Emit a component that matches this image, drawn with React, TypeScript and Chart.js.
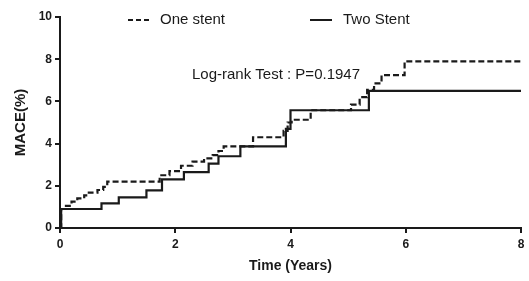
import React, { useEffect, useRef } from "react";
import { Chart, registerables } from "chart.js";

Chart.register(...registerables);

// One stent (dashed) Kaplan-Meier style cumulative MACE (%)
const oneStentYears = [0, 0.02, 0.08, 0.2, 0.3, 0.42, 0.5, 0.65, 0.75, 0.82, 1.73, 1.9, 2.1, 2.3, 2.5, 2.65, 2.75, 2.84, 3.35, 3.88, 3.95, 4.02, 4.35, 5.05, 5.2, 5.33, 5.45, 5.58, 5.98, 8];
const oneStentMace = [0, 0.9, 1.05, 1.25, 1.4, 1.55, 1.68, 1.8, 1.95, 2.2, 2.5, 2.7, 2.95, 3.15, 3.3, 3.45, 3.65, 3.87, 4.3, 4.6, 5.0, 5.13, 5.58, 5.85, 6.2, 6.55, 6.85, 7.25, 7.9, 7.9];

// Two stent (solid)
const twoStentYears = [0, 0.02, 0.72, 1.02, 1.5, 1.77, 2.15, 2.58, 2.75, 3.13, 3.92, 4.0, 5.36, 8];
const twoStentMace = [0, 0.9, 1.17, 1.45, 1.78, 2.3, 2.65, 3.05, 3.4, 3.87, 4.7, 5.58, 6.5, 6.5];

const xTicks = [0, 2, 4, 6, 8];
const yTicks = [0, 2, 4, 6, 8, 10];

const seriesNames = ["One stent", "Two Stent"];
const annotationText = "Log-rank Test : P=0.1947";
const xTitle = "Time (Years)";
const yTitle = "MACE(%)";

const INK = "#1a1a1a";
const FONT = "'Liberation Sans', Arial, sans-serif";

const overlayPlugin = {
  id: "overlay",
  afterDraw(chart: any) {
    const { ctx, chartArea } = chart;
    const L = chartArea.left;
    const T = chartArea.top;
    ctx.save();
    ctx.strokeStyle = INK;
    ctx.fillStyle = INK;
    ctx.lineWidth = 2;
    // legend: One stent (dashed), Two Stent (solid)
    const ly = T + 3;
    ctx.setLineDash([5, 3]);
    ctx.beginPath();
    ctx.moveTo(L + 68, ly);
    ctx.lineTo(L + 92, ly);
    ctx.stroke();
    ctx.setLineDash([]);
    ctx.beginPath();
    ctx.moveTo(L + 250, ly);
    ctx.lineTo(L + 272, ly);
    ctx.stroke();
    ctx.font = `15px ${FONT}`;
    ctx.textBaseline = "middle";
    ctx.textAlign = "left";
    ctx.fillText(seriesNames[0], L + 100, ly);
    ctx.fillText(seriesNames[1], L + 283, ly);
    // annotation
    ctx.font = `15px ${FONT}`;
    ctx.textAlign = "center";
    ctx.fillText(annotationText, L + 216, T + 58);
    ctx.restore();
  },
};

export default function App() {
  const ref = useRef<HTMLCanvasElement | null>(null);
  useEffect(() => {
    if (!ref.current) return;
    const mk = (xs: number[], ys: number[]) => xs.map((x, i) => ({ x, y: ys[i] }));
    const axisCommon = {
      grid: {
        display: true,
        drawOnChartArea: false,
        drawTicks: true,
        tickLength: 5,
        color: INK,
        lineWidth: 2,
      },
      border: { display: true, color: INK, width: 2 },
    };
    const chart = new Chart(ref.current, {
      type: "line",
      data: {
        datasets: [
          {
            label: seriesNames[0],
            data: mk(oneStentYears, oneStentMace),
            stepped: true,
            borderColor: INK,
            borderWidth: 2.2,
            borderDash: [6, 3],
            pointRadius: 0,
            fill: false,
          },
          {
            label: seriesNames[1],
            data: mk(twoStentYears, twoStentMace),
            stepped: true,
            borderColor: INK,
            borderWidth: 2.2,
            pointRadius: 0,
            fill: false,
          },
        ],
      },
      options: {
        animation: false,
        responsive: false,
        layout: { padding: { left: 0, right: 8, top: 17, bottom: 0 } },
        plugins: { legend: { display: false }, tooltip: { enabled: false } },
        scales: {
          x: {
            type: "linear",
            min: 0,
            max: 8,
            afterBuildTicks: (s: any) => {
              s.ticks = xTicks.map((v) => ({ value: v }));
            },
            ticks: {
              color: INK,
              font: { family: FONT, weight: "bold", size: 12 },
              padding: 4,
              maxRotation: 0,
            },
            title: {
              display: true,
              text: xTitle,
              color: INK,
              font: { family: FONT, weight: "bold", size: 14 },
              padding: { top: 0, bottom: 6 },
            },
            afterFit: (s: any) => {
              s.height = 53;
            },
            ...axisCommon,
          },
          y: {
            type: "linear",
            min: 0,
            max: 10,
            afterBuildTicks: (s: any) => {
              s.ticks = yTicks.map((v) => ({ value: v }));
            },
            ticks: {
              color: INK,
              font: { family: FONT, weight: "bold", size: 12 },
              padding: 3,
            },
            title: {
              display: true,
              text: yTitle,
              color: INK,
              font: { family: FONT, weight: "bold", size: 15 },
              padding: { top: 12, bottom: 0 },
            },
            afterFit: (s: any) => {
              s.width = 60;
            },
            ...axisCommon,
          },
        },
      },
      plugins: [overlayPlugin],
    } as any);
    return () => chart.destroy();
  }, []);
  return (
    <div style={{ position: "fixed", left: 0, top: 0, width: 529, height: 281, background: "#fff" }}>
      <canvas ref={ref} width={529} height={281} style={{ width: 529, height: 281, display: "block" }} />
    </div>
  );
}
